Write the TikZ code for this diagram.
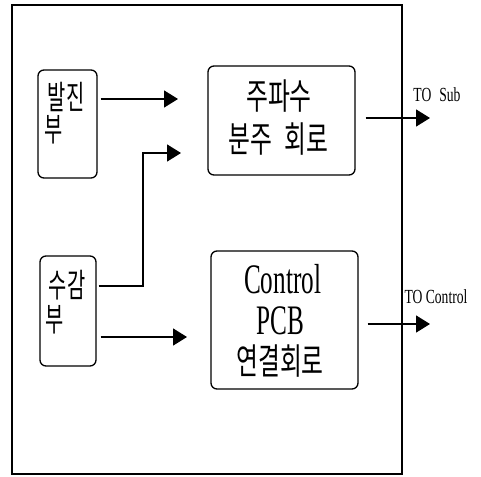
\documentclass[tikz,border=0pt]{standalone}
\usepackage{fontspec}
\newfontfamily\krfont[FakeStretch=0.66]{Noto Sans CJK KR}
\newfontfamily\krnarrow[FakeStretch=0.6]{Noto Sans CJK KR}
\newfontfamily\serifn[FakeStretch=0.6]{Liberation Serif}
\newfontfamily\serifl[FakeStretch=0.68]{Liberation Serif}
\usetikzlibrary{arrows.meta}
\begin{document}
\begin{tikzpicture}[x=1pt,y=-1pt,
  box/.style={draw, rounded corners=6pt, line width=1.3pt, inner sep=0pt},
  conn/.style={line width=1.6pt, -{Triangle[length=14pt,width=17pt]}},
  kr/.style={inner sep=0pt, font=\krfont\fontsize{36}{38}\selectfont},
  krn/.style={inner sep=0pt, font=\krnarrow\fontsize{33}{36}\selectfont},
  lat/.style={inner sep=0pt, font=\serifn\fontsize{42}{44}\selectfont},
  outlbl/.style={inner sep=0pt, font=\serifl\fontsize{20}{22}\selectfont}]
\useasboundingbox (0,0) rectangle (481,476);
\fill[white] (0,0) rectangle (481,476);
% outer frame
\node[draw, line width=1.2pt, inner sep=0pt, minimum width=390pt, minimum height=469pt] (frame) at (207,239.5) {};
% boxes
\node[box, minimum width=59pt, minimum height=108pt] (osc) at (67.5,124) {};
\node[box, minimum width=56pt, minimum height=110pt] (sens) at (68,311) {};
\node[box, minimum width=147pt, minimum height=109pt] (div) at (281.5,120.5) {};
\node[box, minimum width=147pt, minimum height=138pt] (ctl) at (284.5,320) {};
% texts
\node[krn] (oscA) at (66,97) {발진};
\node[krn] (oscB) at (54,130) {부};
\node[krn] (sensA) at (67,285) {수감};
\node[krn] (sensB) at (55,320) {부};
\node[kr] (divA) at (279,96) {주파수};
\node[kr] (divB) at (278.5,139) {분주\hspace{12pt}회로};
\node[lat] (ctlA) at (282.5,279) {Control};
\node[lat] (ctlB) at (280,321) {PCB};
\node[kr] (ctlC) at (280,361) {연결회로};
\node[outlbl] (lsub) at (437,95) {TO\hspace{8pt}Sub};
\node[outlbl] (lctl) at (436,297) {TO Control};
% connectors
\coordinate (a1e) at (178,99);
\coordinate (a2e) at (181,153);
\coordinate (b2) at (143,286);
\coordinate (a3e) at (187,337);
\coordinate (o1e) at (430,118);
\coordinate (o2e) at (430,324);
\draw[conn] ([xshift=3pt]osc.east |- a1e) -- (a1e);
\draw[conn] ([xshift=2pt]sens.east |- b2) -- (b2) |- (a2e);
\draw[conn] ([xshift=4pt]sens.east |- a3e) -- (a3e);
\draw[conn] ([xshift=10pt]div.east |- o1e) -- (o1e);
\draw[conn] ([xshift=9pt]ctl.east |- o2e) -- (o2e);
\end{tikzpicture}
\end{document}
